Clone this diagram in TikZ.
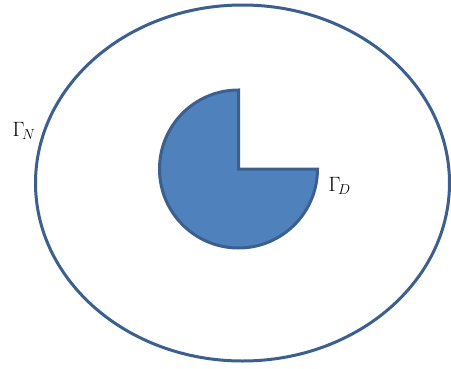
\documentclass[tikz,border=0pt]{standalone}
\begin{document}
\begin{tikzpicture}[x=1pt,y=-1pt,
  bnd/.style={draw=outl,line width=3pt},
  lbl/.style={inner sep=0pt,anchor=base west,font=\fontsize{20}{24}\selectfont}]
\definecolor{outl}{HTML}{3B5F8E}
\definecolor{fillc}{HTML}{4F81BD}
\useasboundingbox (0,0) rectangle (451,368);
\draw[bnd] (242.5,183) ellipse [x radius=207, y radius=178];
\coordinate (c) at (238.5,169);
\draw[bnd,fill=fillc,line join=miter] (c) -- ++(0,-79) arc[start angle=270,end angle=0,radius=79] -- cycle;
\node[lbl] (gn) at (12.5,136.5) {$\Gamma_{\!N}$};
\node[lbl] (gd) at (328.5,191.5) {$\Gamma_{\!D}$};
\end{tikzpicture}
\end{document}
